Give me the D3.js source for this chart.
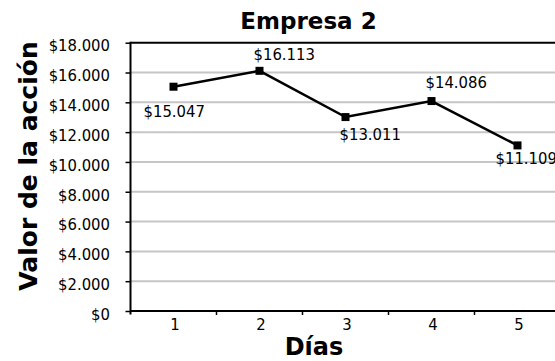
<!DOCTYPE html>
<html><head><meta charset="utf-8">
<script src="https://cdn.jsdelivr.net/npm/d3@7"></script>
<style>
html,body{margin:0;padding:0;background:#fff;overflow:hidden;}
svg{display:block;}
</style></head>
<body>
<script>
// ---- data ----
const categories = ["1", "2", "3", "4", "5"];
const values = [15047, 16113, 13011, 14086, 11109];
const yTicks = [0, 2000, 4000, 6000, 8000, 10000, 12000, 14000, 16000, 18000];
const titleText = "Empresa 2";
const xTitle = "Días";
const yTitle = "Valor de la acción";
// label placement (style only): dx, dy relative to point, text-anchor start
const labelOffsets = [[-30, 30.5], [-6, -11], [-6, 23], [-6, -12.7], [-22, 19]];

const W = 555, H = 361;
const pLeft = 130.5, pRight = 560.5, pTop = 42.7, pBottom = 311;
const regFont = "'DejaVu Sans Condensed', 'DejaVu Sans', sans-serif";
const boldFont = "'DejaVu Sans', sans-serif";

const svg = d3.select("body").append("svg").attr("width", W).attr("height", H);
svg.append("rect").attr("width", W).attr("height", H).attr("fill", "#fff");

const x = d3.scaleBand().domain(categories).range([pLeft, pRight]).padding(0);
const y = d3.scaleLinear().domain([0, 18000]).range([pBottom, pTop]);

const loc = d3.formatLocale({decimal: ",", thousands: ".", grouping: [3], currency: ["$", ""]});
const fmt = loc.format("$,.0f");

// gridlines
svg.append("g")
  .selectAll("line").data(yTicks.filter(d => d > 0 && d < 18000)).join("line")
  .attr("x1", pLeft).attr("x2", pRight)
  .attr("y1", d => y(d)).attr("y2", d => y(d))
  .attr("stroke", "#c6c6c6").attr("stroke-width", 2);

// top border
svg.append("line").attr("x1", pLeft).attr("x2", pRight).attr("y1", y(18000)).attr("y2", y(18000))
  .attr("stroke", "#000").attr("stroke-width", 2);

// y axis
const yAxis = svg.append("g").attr("transform", `translate(${pLeft},0)`)
  .call(d3.axisLeft(y).tickValues(yTicks).tickFormat(fmt).tickSize(5).tickPadding(15.5).tickSizeOuter(0));
yAxis.select(".domain").remove();
yAxis.selectAll(".tick line").attr("stroke", "#000").attr("stroke-width", 1.5);
yAxis.selectAll("text").attr("font-family", regFont).attr("font-size", 16.5).attr("fill", "#000").attr("y", 3);
svg.append("line").attr("x1", pLeft).attr("x2", pLeft).attr("y1", pTop - 1).attr("y2", pBottom + 3.5)
  .attr("stroke", "#000").attr("stroke-width", 2);

// x axis
const xAxis = svg.append("g").attr("transform", `translate(0,${pBottom})`)
  .call(d3.axisBottom(x).tickSize(0).tickPadding(7.3));
xAxis.select(".domain").remove();
xAxis.selectAll("text").attr("font-family", regFont).attr("font-size", 16.5).attr("fill", "#000").attr("dx", 1.5);
svg.append("line").attr("x1", pLeft).attr("x2", pRight).attr("y1", pBottom).attr("y2", pBottom)
  .attr("stroke", "#000").attr("stroke-width", 2);
svg.append("g").selectAll("line").data(categories.slice(1)).join("line")
  .attr("x1", d => x(d)).attr("x2", d => x(d))
  .attr("y1", pBottom).attr("y2", pBottom + 4)
  .attr("stroke", "#000").attr("stroke-width", 1.5);

// line
const line = d3.line().x((d, i) => x(categories[i]) + x.bandwidth() / 2).y(d => y(d));
svg.append("path").datum(values).attr("d", line)
  .attr("fill", "none").attr("stroke", "#000").attr("stroke-width", 2.5);

// markers
svg.append("g").selectAll("rect").data(values).join("rect")
  .attr("x", (d, i) => x(categories[i]) + x.bandwidth() / 2 - 4)
  .attr("y", d => y(d) - 4)
  .attr("width", 8).attr("height", 8).attr("fill", "#000");

// data labels
svg.append("g").selectAll("text").data(values).join("text")
  .attr("x", (d, i) => x(categories[i]) + x.bandwidth() / 2 + labelOffsets[i][0])
  .attr("y", (d, i) => y(d) + labelOffsets[i][1])
  .attr("font-family", regFont).attr("font-size", 16.5).attr("fill", "#000")
  .text(d => fmt(d));

// titles
svg.append("text").attr("x", 308.5).attr("y", 28.5).attr("text-anchor", "middle")
  .attr("font-family", boldFont).attr("font-weight", "bold").attr("font-size", 23)
  .text(titleText);
svg.append("text").attr("x", 314).attr("y", 355).attr("text-anchor", "middle")
  .attr("font-family", boldFont).attr("font-weight", "bold").attr("font-size", 24)
  .text(xTitle);
svg.append("text").attr("transform", "translate(36.5,166) rotate(-90)").attr("text-anchor", "middle")
  .attr("font-family", boldFont).attr("font-weight", "bold").attr("font-size", 25)
  .text(yTitle);
</script>
</body></html>
